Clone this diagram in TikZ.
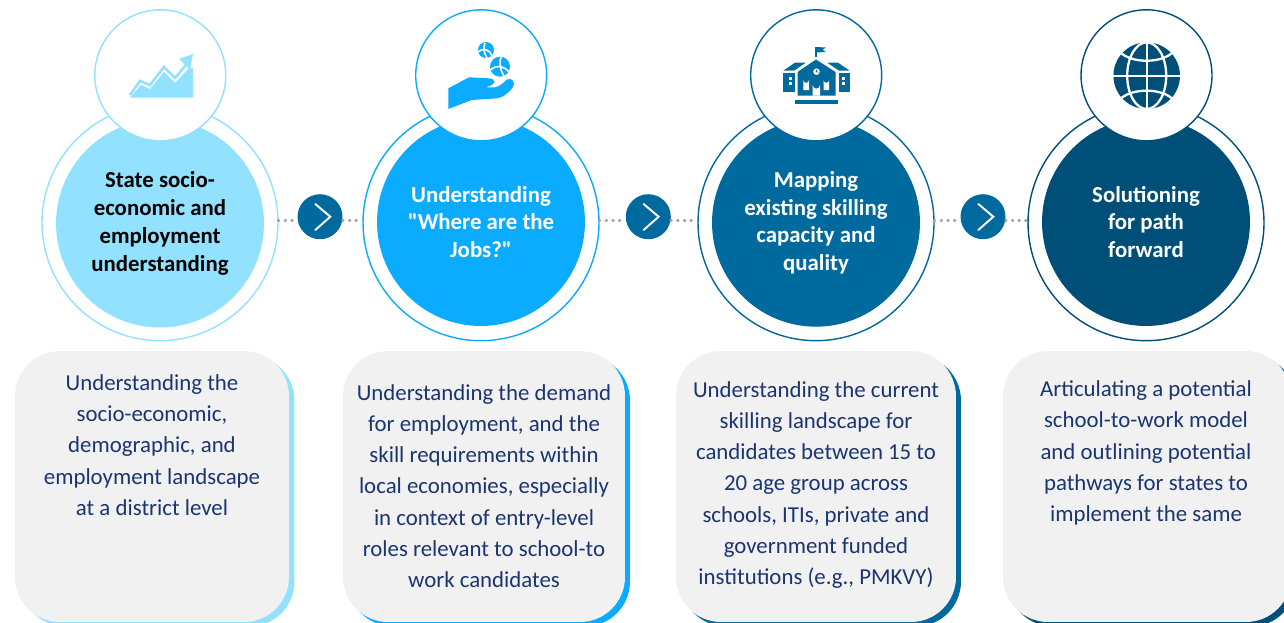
\documentclass[tikz,border=0pt]{standalone}
\usepackage{fontspec}
\setmainfont{Carlito}
\newfontfamily\quotefont{Carlito}
\usepackage{tikz}
\definecolor{stepa}{HTML}{92E2FF}
\definecolor{stepb}{HTML}{0BACFF}
\definecolor{stepc}{HTML}{006A9E}
\definecolor{stepd}{HTML}{004F78}
\definecolor{cardgray}{HTML}{F1F1F2}
\definecolor{cardtext}{HTML}{1A3570}
\definecolor{dotgray}{HTML}{A0A0A0}
\tikzset{
  ring/.style={circle, draw=#1, line width=0.8pt, fill=white, minimum size=4.72cm, inner sep=0pt},
  disc/.style={circle, fill=#1, text=white, minimum size=4.16cm, inner sep=0pt, align=center,
    font=\fontsize{13}{15.8}\selectfont\bfseries},
  iconring/.style={circle, draw=#1, line width=0.8pt, fill=white, minimum size=2.62cm, inner sep=0pt},
  chev/.style={circle, fill=stepc, minimum size=0.9cm, inner sep=0pt},
  chevline/.style={draw=white, line width=1.1pt, line cap=round, line join=miter},
  dotline/.style={draw=dotgray, line width=2pt, line cap=round, dash pattern=on 0pt off 3.8pt},
  card/.style={rectangle, rounded corners=0.9cm, fill=cardgray, minimum height=5.42cm, inner sep=0pt},
  cardback/.style={rectangle, rounded corners=0.9cm, fill=#1, minimum height=5.42cm, inner sep=0pt},
  cardtxt/.style={text=cardtext, align=center, inner sep=0pt, font=\fontsize{13}{17.8}\selectfont},
}
\begin{document}
\begin{tikzpicture}[x=0.02cm,y=-0.02cm]
\useasboundingbox (0,0) rectangle (1284,622);
\clip (0,0) rectangle (1284,622);
% outer rings
\node[ring=stepa] (outer1) at (160,222.7) {};
\node[ring=stepb] (outer2) at (481,222.7) {};
\node[ring=stepc] (outer3) at (816,222.7) {};
\node[ring=stepd] (outer4) at (1146,222.7) {};
% inner discs
\node[disc=stepa, text=black] (inner1) at (160,223.5) {State socio-\\economic and\\employment\\understanding};
\node[disc=stepb] (inner2) at (481,222) {Understanding\\{\quotefont "}Where are the\\Jobs?{\quotefont "}};
\node[disc=stepc] (inner3) at (816,222.7) {Mapping\\existing skilling\\capacity and\\quality};
\node[disc=stepd] (inner4) at (1146,222) {Solutioning\\for path\\forward};
% icon circles
\node[iconring=stepa] (top1) at (160.3,75.3) {};
\node[iconring=stepb] (top2) at (481.2,75.3) {};
\node[iconring=stepc] (top3) at (816.2,75.3) {};
\node[iconring=stepd] (top4) at (1146.5,75.3) {};
% dotted links
\coordinate (lev) at (0,220.5);
\node[chev] (chev1) at (320,216.7) {};
\node[chev] (chev2) at (648.3,216.7) {};
\node[chev] (chev3) at (983,216.7) {};
\draw[dotline] (outer1.east |- lev) -- (chev1.west |- lev);
\draw[dotline] (chev1.east |- lev) -- (outer2.west |- lev);
\draw[dotline] (outer2.east |- lev) -- (chev2.west |- lev);
\draw[dotline] (chev2.east |- lev) -- (outer3.west |- lev);
\draw[dotline] (outer3.east |- lev) -- (chev3.west |- lev);
\draw[dotline] (chev3.east |- lev) -- (outer4.west |- lev);
% chevrons
\draw[chevline] ([shift={(-4.7,-12.7)}]chev1.center) -- ([shift={(10.3,0)}]chev1.center) -- ([shift={(-4.7,13.3)}]chev1.center);
\draw[chevline] ([shift={(-4.7,-12.7)}]chev2.center) -- ([shift={(10.3,0)}]chev2.center) -- ([shift={(-4.7,13.3)}]chev2.center);
\draw[chevline] ([shift={(-4.7,-12.7)}]chev3.center) -- ([shift={(10.3,0)}]chev3.center) -- ([shift={(-4.7,13.3)}]chev3.center);
% cards
\node[cardback=stepa, minimum width=5.48cm] (back1) at (157.5,491) {};
\node[cardback=stepb, minimum width=5.64cm] (back2) at (489,491) {};
\node[cardback=stepc, minimum width=5.6cm] (back3) at (821,491) {};
\node[cardback=stepd, minimum width=5.76cm] (back4) at (1152,491) {};
\node[card, minimum width=5.48cm] (card1) at (152,486.5) {};
\node[card, minimum width=5.64cm] (card2) at (484,486.5) {};
\node[card, minimum width=5.6cm] (card3) at (816,486.5) {};
\node[card, minimum width=5.76cm] (card4) at (1147,486.5) {};
% card texts
\node[cardtxt] (text1) at (152,445) {Understanding the\\socio-economic,\\demographic, and\\employment landscape\\at a district level};
\node[cardtxt] (text2) at (484,486) {Understanding the demand\\for employment, and the\\skill requirements within\\local economies, especially\\in context of entry-level\\roles relevant to school-to\\work candidates};
\node[cardtxt] (text3) at (816,485) {Understanding the current\\skilling landscape for\\candidates between 15 to\\20 age group across\\schools, ITIs, private and\\government funded\\institutions (e.g., PMKVY)};
\node[cardtxt] (text4) at (1146,453) {Articulating a potential\\school-to-work model\\and outlining potential\\pathways for states to\\implement the same};
% chart icon
\fill[stepa] (130,97.7) -- (141,85) -- (150,89) -- (164,72) -- (175,83) -- (189,68) -- (193,68) -- (193,97.7) -- cycle;
\draw[stepa, line width=1.5pt, line join=miter] (130,95) -- (140,81) -- (150,85) -- (164,67) -- (175,78) -- (186,65);
\fill[stepa] (179,59) -- (193,54) -- (190,70) -- cycle;
% hand icon
\fill[stepb] (448.3,88.3) -- (469,77.3) -- (488,78.3) .. controls (497,79) and (497,84) .. (486,87.3) -- (495,87.3)
  .. controls (500,87) and (505,81) .. (507,79.5) .. controls (512,77) and (516,83) .. (513,87)
  .. controls (509,93) and (502,98) .. (497,98.3) -- (471.7,100) -- (448.3,109) -- cycle;
\fill[stepb] (486,50) circle (8);
\fill[stepb] (500,66.7) circle (10);
\draw[white, line width=0.9pt] (478,52) .. controls (484,47) and (490,50) .. (492,56);
\draw[white, line width=0.9pt] (485,43) .. controls (483,48) and (484,53) .. (487,58);
\draw[white, line width=0.9pt] (490.5,70) .. controls (497,64) and (504,66) .. (509,72);
\draw[white, line width=0.9pt] (501,57) .. controls (499,63) and (500,70) .. (504,76);
% school icon
\draw[stepc, line width=0.6pt] (816,47) -- (816,57);
\fill[stepc] (816,47) -- (825.7,47.5) -- (822.5,49.7) -- (825.7,52) -- (816,52.5) -- cycle;
\fill[stepc] (797.5,95.7) -- (797.5,72) -- (816,59.5) -- (835.5,72) -- (835.5,95.7) -- cycle;
\fill[white] (803.3,90) -- (803.3,80) arc (180:0:2.85) -- (809,90) -- cycle;
\fill[white] (823.5,90) -- (823.5,80) arc (180:0:2.85) -- (829.2,90) -- cycle;
\fill[white] (812.7,95.7) -- (812.7,85) arc (180:0:3.65) -- (820,95.7) -- cycle;
\fill[white] (816.5,71.7) circle (3.3);
\draw[stepc, line width=0.35pt] (816.5,69.5) -- (816.5,71.7) -- (818.3,72.5);
\fill[stepc] (783.3,70.7) -- (795,62.7) -- (805.7,62.7) -- (794,70.7) -- cycle;
\fill[stepc] (849.7,70.7) -- (838,62.7) -- (827.3,62.7) -- (839,70.7) -- cycle;
\fill[stepc] (783.3,73.3) rectangle (795,92.3);
\fill[stepc] (838.5,73.3) rectangle (849.5,92.3);
\fill[white] (788.5,76.5) rectangle (791.5,79.5);
\fill[white] (788.5,82) rectangle (791.5,85);
\fill[white] (841.5,76.5) rectangle (844.5,79.5);
\fill[white] (841.5,82) rectangle (844.5,85);
\fill[stepc] (795,100) rectangle (837.7,104.3);
% globe icon
\fill[stepd] (1146.7,75.7) circle (33.3);
\draw[white, line width=1.3pt] (1146.7,40) -- (1146.7,111);
\draw[white, line width=1.3pt] (1111,75.7) -- (1182,75.7);
\draw[white, line width=1.3pt] (1146.7,75.7) ellipse (19.5 and 33.3);
\draw[white, line width=1.3pt] (1119,51) .. controls (1130,64) and (1163,64) .. (1174,51);
\draw[white, line width=1.3pt] (1119,100.4) .. controls (1130,87.4) and (1163,87.4) .. (1174,100.4);
\end{tikzpicture}
\end{document}
